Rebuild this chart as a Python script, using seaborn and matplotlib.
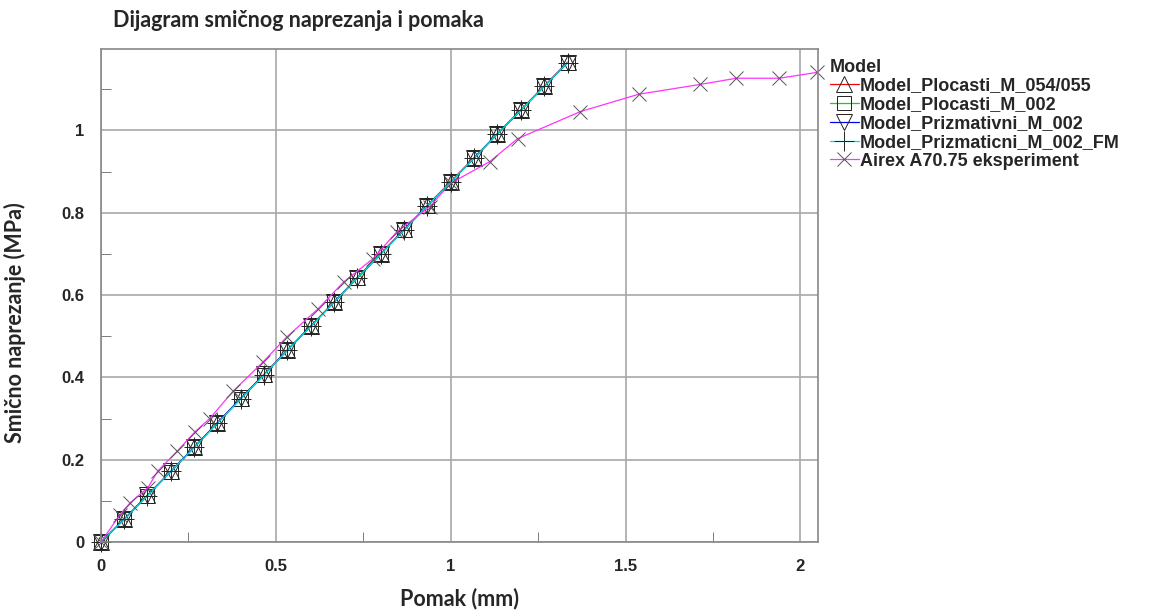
import numpy as np
import pandas as pd
import seaborn as sns
import matplotlib.pyplot as plt
from matplotlib.ticker import MultipleLocator, FixedLocator

# Model series (pomak mm, naprezanje MPa)
model_x = [0.0, 0.067, 0.133, 0.2, 0.267, 0.333, 0.4, 0.467, 0.533, 0.6, 0.667,
           0.733, 0.8, 0.867, 0.933, 1.0, 1.067, 1.133, 1.2, 1.267, 1.334]
plocasti_054 = [0.0, 0.056, 0.114, 0.172, 0.231, 0.290, 0.350, 0.408, 0.467, 0.525, 0.584,
                0.643, 0.701, 0.760, 0.818, 0.876, 0.934, 0.992, 1.050, 1.108, 1.166]
plocasti_002 = [0.0, 0.055, 0.113, 0.171, 0.230, 0.289, 0.348, 0.407, 0.466, 0.524, 0.583,
                0.641, 0.700, 0.758, 0.817, 0.875, 0.933, 0.991, 1.049, 1.107, 1.165]
prizmativni_002 = [0.0, 0.056, 0.114, 0.172, 0.231, 0.290, 0.349, 0.408, 0.466, 0.525, 0.583,
                   0.642, 0.700, 0.759, 0.817, 0.875, 0.933, 0.991, 1.049, 1.107, 1.165]
prizmaticni_fm = [0.0, 0.055, 0.113, 0.172, 0.230, 0.289, 0.348, 0.407, 0.466, 0.524, 0.583,
                  0.642, 0.700, 0.758, 0.817, 0.875, 0.933, 0.991, 1.049, 1.107, 1.165]

# Airex A70.75 experiment
exp_x = [0.0, 0.054, 0.083, 0.134, 0.163, 0.217, 0.269, 0.311, 0.377, 0.463, 0.531, 0.62,
         0.694, 0.777, 0.846, 0.94, 1.0, 1.111, 1.191, 1.371, 1.537, 1.714, 1.817, 1.94, 2.046]
exp_y = [0.0, 0.066, 0.095, 0.132, 0.173, 0.22, 0.268, 0.30, 0.366, 0.437, 0.498, 0.566,
         0.632, 0.688, 0.754, 0.815, 0.872, 0.924, 0.980, 1.046, 1.088, 1.112, 1.127, 1.127, 1.141]

labels = ['Model_Plocasti_M_054/055', 'Model_Plocasti_M_002', 'Model_Prizmativni_M_002',
          'Model_Prizmaticni_M_002_FM', 'Airex A70.75 eksperiment']

sns.set_style("white")
plt.rcParams['font.family'] = ['Liberation Sans', 'DejaVu Sans']

fig = plt.figure(figsize=(11.66, 6.11), dpi=100)
ax = fig.add_axes([0.0866, 0.1129, 0.6149, 0.8069])

series = [
    (model_x, plocasti_054, '#ff0000', '^'),
    (model_x, plocasti_002, '#00dd00', 's'),
    (model_x, prizmativni_002, '#0000ff', 'v'),
    (model_x, prizmaticni_fm, '#00e0d0', '+'),
    (exp_x, exp_y, '#ff33ff', 'x'),
]

for (xs, ys, col, mk), lab in zip(series, labels):
    df = pd.DataFrame({'x': xs, 'y': ys})
    ms = 11 if mk in ('^', 'v') else 10
    if mk == '+':
        ms = 15
    sns.lineplot(data=df, x='x', y='y', ax=ax, color=col, linewidth=0.9,
                 marker=mk, markersize=ms, markerfacecolor='none',
                 markeredgecolor='#222222' if mk != 'x' else '#555555',
                 markeredgewidth=0.7, label=lab, clip_on=False, sort=False)

ax.set_xlim(0, 2.05)
ax.set_ylim(0, 1.198)
ax.xaxis.set_major_locator(FixedLocator([0, 0.5, 1, 1.5, 2]))
ax.xaxis.set_minor_locator(MultipleLocator(0.25))
ax.yaxis.set_major_locator(FixedLocator([0, 0.2, 0.4, 0.6, 0.8, 1.0]))
ax.yaxis.set_minor_locator(MultipleLocator(0.1))
ax.set_xticklabels(['0', '0.5', '1', '1.5', '2'])
ax.set_yticklabels(['0', '0.2', '0.4', '0.6', '0.8', '1'])
ax.grid(True, which='major', color='#a8a8a8', linewidth=1.2)
for s in ax.spines.values():
    s.set_color('#888888')
    s.set_linewidth(1.2)

ax.tick_params(which='major', direction='out', length=6, color='#666666',
               labelsize=12, pad=6)
ax.tick_params(which='minor', direction='in', length=7, color='#666666',
               left=True, bottom=True, right=False, top=False)
for t in ax.get_xticklabels() + ax.get_yticklabels():
    t.set_fontweight('bold')

ax.set_xlabel('Pomak (mm)', fontsize=15.5, fontweight='bold', family='Lato')
ax.set_ylabel('Smično naprezanje (MPa)', fontsize=15.5, fontweight='bold', family='Lato')
ax.xaxis.set_label_coords(0.5, -0.092)
ax.yaxis.set_label_coords(-0.105, 0.444)
fig.text(0.097, 0.966, 'Dijagram smičnog naprezanja i pomaka', fontsize=15.5,
         fontweight='bold', family='Lato', ha='left', va='center')

leg = ax.legend(title='Model', loc='upper left', bbox_to_anchor=(0.7055, 0.915),
                bbox_transform=fig.transFigure, frameon=False, alignment='left',
                prop={'weight': 'bold', 'size': 13}, handlelength=1.6,
                handletextpad=0.05, labelspacing=0.1, borderaxespad=0)
leg.get_title().set_fontweight('bold')
leg.get_title().set_fontsize(13)
leg._legend_box.sep = 1

fig.savefig('out.png', dpi=100)
